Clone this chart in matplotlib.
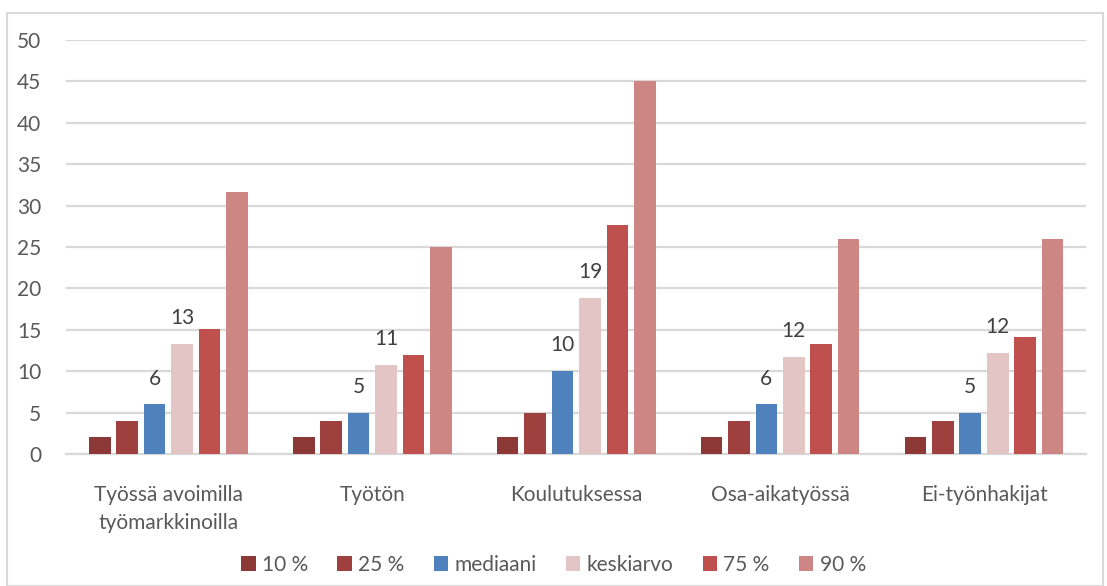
import matplotlib
matplotlib.use("Agg")
import matplotlib.pyplot as plt
import numpy as np
from matplotlib.patches import Rectangle

plt.rcParams['font.family'] = ['Lato', 'DejaVu Sans']

# Datat
ryhmat = ['Työssä avoimilla\ntyömarkkinoilla', 'Työtön', 'Koulutuksessa',
          'Osa-aikatyössä', 'Ei-työnhakijat']
sarjat = ['10 %', '25 %', 'mediaani', 'keskiarvo', '75 %', '90 %']
p10 = [2, 2, 2, 2, 2]
p25 = [4, 4, 5, 4, 4]
mediaani = [6, 5, 10, 6, 5]
keskiarvo = [13.3, 10.8, 18.9, 11.7, 12.2]
p75 = [15.1, 12.0, 27.6, 13.3, 14.1]
p90 = [31.6, 25.0, 45.0, 26.0, 26.0]
arvot = [p10, p25, mediaani, keskiarvo, p75, p90]
varit = ['#8C3836', '#9E413E', '#4F81BD', '#E4C5C5', '#C0504D', '#CD8683']
# vain mediaani ja keskiarvo saavat arvon
nayta_arvo = [False, False, True, True, False, False]

FS = 15

fig = plt.figure(figsize=(11.07, 5.86), dpi=100)
ax = fig.add_axes([0.060, 0.2253, 0.921, 0.7064])

x = np.arange(len(ryhmat))
vali = 0.1345
leveys = 0.106
for i, (nimi, vals) in enumerate(zip(sarjat, arvot)):
    pos = x + (i - 2.5) * vali
    bars = ax.bar(pos, vals, width=leveys, color=varit[i], label=nimi, zorder=3)
    if nayta_arvo[i]:
        for b, v in zip(bars, vals):
            ax.text(b.get_x() + b.get_width() / 2, v + 1.9, f'{v:.0f}',
                    ha='center', va='bottom', fontsize=FS, color='#404040')

ax.set_xlim(-0.5, 4.5)
ax.set_ylim(0, 50)
ax.set_yticks(range(0, 51, 5))
ax.set_xticks(x)
ax.set_xticklabels(ryhmat, fontsize=FS, color='#595959', linespacing=1.55)
ax.tick_params(axis='y', labelsize=FS, colors='#595959', length=0, pad=18)
ax.tick_params(axis='x', length=0, pad=22)
ax.grid(axis='y', color='#D9D9D9', linewidth=1.6, zorder=0)
for s in ['top', 'right', 'left']:
    ax.spines[s].set_visible(False)
ax.spines['bottom'].set_color('#D9D9D9')
ax.spines['bottom'].set_linewidth(1.6)

leg = fig.legend(loc='center', bbox_to_anchor=(0.5, 0.036), ncol=6, frameon=False,
                 fontsize=FS, handlelength=0.7, handleheight=0.7,
                 handletextpad=0.3, columnspacing=1.4)
for t in leg.get_texts():
    t.set_color('#595959')

# kaavion kehys
fig.patches.append(Rectangle((7 / 1107, 0.0), 1096 / 1107, 1 - 13 / 586,
                             transform=fig.transFigure, fill=False,
                             edgecolor='#D9D9D9', linewidth=1.5))

fig.savefig('out.png', dpi=100)
